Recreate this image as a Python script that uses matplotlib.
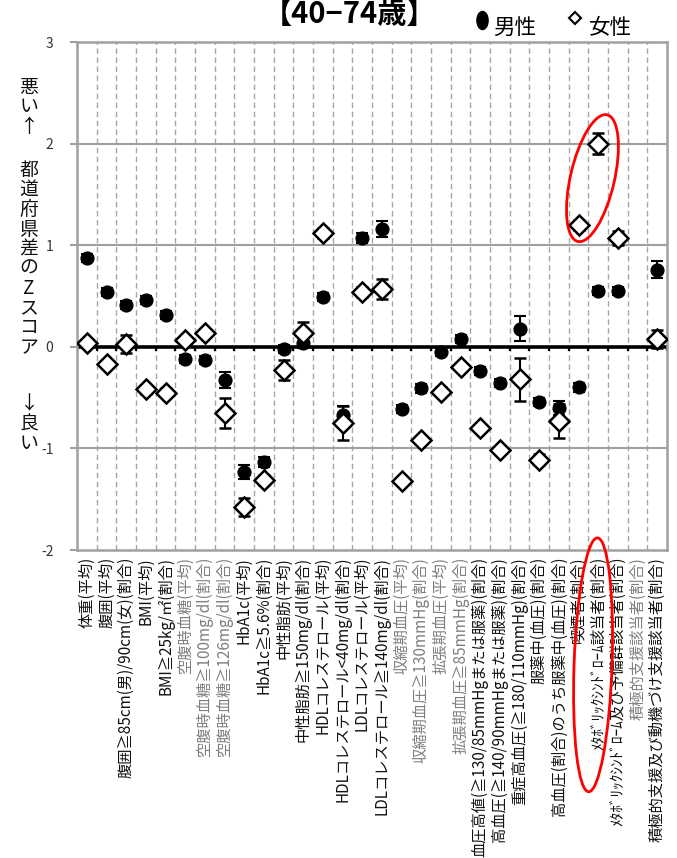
import numpy as np
import matplotlib
matplotlib.use("Agg")
import matplotlib.pyplot as plt
from matplotlib.patches import Ellipse
from matplotlib.lines import Line2D
from matplotlib.markers import MarkerStyle
from matplotlib.transforms import ScaledTranslation, Affine2D

plt.rcParams['font.family'] = ['Noto Sans CJK JP', 'DejaVu Sans']

categories = [
    "体重(平均)", "腹囲(平均)", "腹囲≧85cm(男)/90cm(女)(割合)", "BMI(平均)",
    "BMI≧25kg/㎡(割合)", "空腹時血糖(平均)", "空腹時血糖≧100mg/dl(割合)",
    "空腹時血糖≧126mg/dl(割合)", "HbA1c(平均)", "HbA1c≧5.6%(割合)",
    "中性脂肪(平均)", "中性脂肪≧150mg/dl(割合)", "HDLコレステロール(平均)",
    "HDLコレステロール<40mg/dl(割合)", "LDLコレステロール(平均)",
    "LDLコレステロール≧140mg/dl(割合)", "収縮期血圧(平均)",
    "収縮期血圧≧130mmHg(割合)", "拡張期血圧(平均)", "拡張期血圧≧85mmHg(割合)",
    "血圧高値(≧130/85mmHgまたは服薬)(割合)", "高血圧(≧140/90mmHgまたは服薬)(割合)",
    "重症高血圧(≧180/110mmHg)(割合)", "服薬中(血圧)(割合)",
    "高血圧(割合)のうち服薬中(血圧)(割合)", "喫煙者(割合)",
    "ﾒﾀﾎﾞﾘｯｸｼﾝﾄﾞﾛｰﾑ該当者(割合)", "ﾒﾀﾎﾞﾘｯｸｼﾝﾄﾞﾛｰﾑ及び予備群該当者(割合)",
    "積極的支援該当者(割合)", "積極的支援及び動機づけ支援該当者(割合)",
]
gray_labels = [6, 7, 8, 17, 18, 19, 20, 29]  # 1-based positions drawn in gray

nan = np.nan
male = [0.87, 0.54, 0.41, 0.46, 0.31, -0.12, -0.13, -0.33, -1.23, -1.13,
        -0.02, 0.04, 0.49, -0.67, 1.07, 1.16, -0.61, -0.41, -0.05, 0.08,
        -0.24, -0.36, 0.18, -0.54, -0.60, -0.40, 0.55, 0.55, nan, 0.76]
male_err = [0.04, 0.04, 0.04, 0.04, 0.04, 0.04, 0.04, 0.08, 0.07, 0.05,
            0.04, 0.05, 0.04, 0.09, 0.05, 0.08, 0.04, 0.04, 0.04, 0.04,
            0.04, 0.04, 0.12, 0.04, 0.07, 0.04, 0.04, 0.04, nan, 0.08]
female = [0.04, -0.17, 0.03, -0.42, -0.45, 0.07, 0.14, -0.65, -1.58, -1.31,
          -0.23, 0.14, 1.12, -0.75, 0.54, 0.57, -1.32, -0.92, -0.44, -0.20,
          -0.80, -1.02, -0.32, -1.11, -0.73, 1.20, 2.00, 1.07, nan, 0.08]
female_err = [0.04, 0.04, 0.09, 0.04, 0.04, 0.04, 0.04, 0.15, 0.09, 0.05,
              0.10, 0.10, 0.05, 0.17, 0.05, 0.10, 0.04, 0.04, 0.04, 0.04,
              0.04, 0.04, 0.21, 0.05, 0.17, 0.05, 0.10, 0.07, nan, 0.09]
yticks = [-2, -1, 0, 1, 2, 3]

W, H = 677, 858
fig = plt.figure(figsize=(W / 100, H / 100), dpi=100)
ax = fig.add_axes([77 / W, 1 - 550 / H, 590 / W, 508 / H])

n = len(categories)
x = np.arange(1, n + 1)
ax.set_xlim(0.5, n + 0.5)
ax.set_ylim(-2, 3)

# grid
bounds = np.arange(1.5, n, 1.0)
ax.vlines(bounds, -2, 3, colors='#a6a6a6', linestyles=(0, (4, 2.5)), lw=1, zorder=0)
for yv in [-1, 1, 2]:
    ax.axhline(yv, color='#a0a0a0', lw=1.5, zorder=0)
ax.axhline(0, color='black', lw=2.6, zorder=1)
ax.vlines(np.arange(0.5, n + 1, 1.0), -0.045, 0, colors='black', lw=1.6, zorder=1)

for s in ax.spines.values():
    s.set_color('#a0a0a0')
    s.set_linewidth(1.8)

# data
ax.errorbar(x, male, yerr=male_err, fmt='o', color='black', ms=9.2,
            capsize=4.3, elinewidth=1.5, capthick=1.5, zorder=3)
ax.errorbar(x, female, yerr=female_err, fmt='D', color='black', mfc='white',
            mec='black', mew=1.8, ms=9.8, capsize=4.3, elinewidth=1.5,
            capthick=1.5, zorder=4)

# axes ticks
ax.set_yticks(yticks)
ax.set_yticklabels([str(v) for v in yticks], fontsize=10, color='#333333')
ax.tick_params(axis='y', length=5, width=1.5, color='#a0a0a0', pad=12)
ax.set_xticks(x)
ax.set_xticklabels(categories, rotation=90, fontsize=11, va='top', ha='center')
ax.tick_params(axis='x', length=0, pad=5)
for i, lab in enumerate(ax.get_xticklabels(), start=1):
    lab.set_color('#7f7f7f' if i in gray_labels else '#111111')

# y label (vertical writing, one character per line)
def vtext(s, y_first_px, pitch=19.7):
    for k, ch in enumerate(s):
        fig.text(29 / W, 1 - (y_first_px + k * pitch) / H, ch, fontsize=13.6,
                 ha='center', va='center', color='#111111')
vtext("悪い↑", 87)
vtext("都道府県差のZスコア", 170)
vtext("↓良い", 404)

# title (top edge cut off as in the reference)
fig.text(350 / W, 1 - 23 / H, "【40−74歳】", fontsize=21, fontweight='bold',
         ha='center', va='baseline')

# legend (drawn manually)
tall_dot = MarkerStyle('o', transform=Affine2D().scale(0.62, 1.0))
fig.add_artist(Line2D([482 / W], [1 - 20 / H], transform=fig.transFigure,
                      marker=tall_dot, ls='none', color='black', ms=13))
fig.add_artist(Line2D([575 / W], [1 - 18 / H], transform=fig.transFigure,
                      marker='D', ls='none', mfc='white', mec='black', mew=1.5, ms=6.5))
fig.text(515 / W, 1 - 28 / H, "男性", fontsize=15.5, ha='center', va='center')
fig.text(610 / W, 1 - 28 / H, "女性", fontsize=15.5, ha='center', va='center')

# red ellipses (annotations)
e1 = Ellipse((0, 0), width=0.44, height=1.30, angle=-13, fill=False,
             edgecolor='#ff0000', lw=2,
             transform=fig.dpi_scale_trans + ScaledTranslation(26.71, 1.66, ax.transData),
             clip_on=False, zorder=6)
ax.add_artist(e1)
e2 = Ellipse((0, 0), width=0.38, height=2.54, angle=-2, fill=False,
             edgecolor='#ff0000', lw=2,
             transform=fig.dpi_scale_trans + ScaledTranslation(26.74, -3.13, ax.transData),
             clip_on=False, zorder=6)
ax.add_artist(e2)

fig.savefig("out.png", dpi=100)
